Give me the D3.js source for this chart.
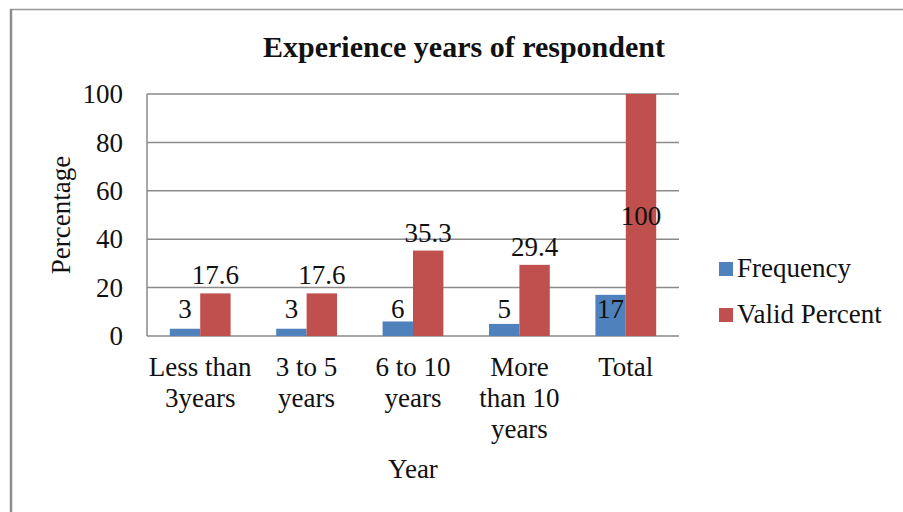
<!DOCTYPE html>
<html>
<head>
<meta charset="utf-8">
<script src="https://cdn.jsdelivr.net/npm/d3@7"></script>
<style>
  body { margin: 0; background: #fff; }
  svg { display: block; }
  text { font-family: "Liberation Serif", "Times New Roman", serif; fill: #111; }
  .axis path { display: none; }
  .axis text { font-size: 27px; font-family: "Liberation Serif", serif; fill: #111; }
</style>
</head>
<body>
<div id="chart"></div>
<script>
// chart data
const categories = [
  ['Less than', '3years'],
  ['3 to 5', 'years'],
  ['6 to 10', 'years'],
  ['More', 'than 10', 'years'],
  ['Total']
];
const seriesNames = ['Frequency', 'Valid Percent'];
const frequency = [3, 3, 6, 5, 17];
const validPercent = [17.6, 17.6, 35.3, 29.4, 100];
const yTicks = [0, 20, 40, 60, 80, 100];
const colors = ['#4f81bd', '#c0504d'];

const width = 903, height = 512;
const margin = {top: 94, right: 224, bottom: 176, left: 147};
const innerW = width - margin.left - margin.right;
const innerH = height - margin.top - margin.bottom;
const fontSize = 27;

const svg = d3.select('#chart').append('svg')
    .attr('width', width)
    .attr('height', height);

// outer frame (only top and left edges visible)
svg.append('line')
    .attr('x1', 10).attr('x2', width).attr('y1', 9.5).attr('y2', 9.5)
    .attr('stroke', '#999').attr('stroke-width', 1.5);
svg.append('line')
    .attr('x1', 11).attr('x2', 11).attr('y1', 9).attr('y2', height)
    .attr('stroke', '#8c8c8c').attr('stroke-width', 2.5);

svg.append('text')
    .attr('x', 464)
    .attr('y', 57)
    .attr('text-anchor', 'middle')
    .style('font-size', '30px')
    .style('font-weight', 'bold')
    .text('Experience years of respondent');

const chart = svg.append('g')
    .attr('transform', `translate(${margin.left},${margin.top})`);

const xScale = d3.scaleBand()
    .domain(d3.range(categories.length))
    .range([0, innerW]);

// Excel style gap width 150%
const groupW = xScale.bandwidth() / 3.5 * 2;
const xInner = d3.scaleBand()
    .domain(d3.range(seriesNames.length))
    .range([(xScale.bandwidth() - groupW) / 2, (xScale.bandwidth() + groupW) / 2]);

const yScale = d3.scaleLinear()
    .domain([0, 100])
    .range([innerH, 0]);

// gridlines
chart.append('g')
    .selectAll('line')
    .data(yTicks)
    .join('line')
    .attr('x1', 0).attr('x2', innerW)
    .attr('y1', d => yScale(d)).attr('y2', d => yScale(d))
    .attr('stroke', '#8a8a8a')
    .attr('stroke-width', 1.5);

chart.append('line')
    .attr('x1', 0).attr('x2', 0)
    .attr('y1', 0).attr('y2', innerH)
    .attr('stroke', '#8a8a8a')
    .attr('stroke-width', 1.5);

const yAxis = d3.axisLeft(yScale)
    .tickValues(yTicks)
    .tickSize(0)
    .tickPadding(24);

chart.append('g')
    .attr('class', 'axis')
    .call(yAxis);

const rows = categories.map((c, i) => ({i, values: [frequency[i], validPercent[i]]}));

const groups = chart.selectAll('.group')
    .data(rows)
    .join('g')
    .attr('class', 'group')
    .attr('transform', d => `translate(${xScale(d.i)},0)`);

groups.selectAll('rect')
    .data(d => d.values.map((v, s) => ({v, s})))
    .join('rect')
    .attr('x', d => xInner(d.s))
    .attr('width', xInner.bandwidth())
    .attr('y', d => yScale(d.v))
    .attr('height', d => innerH - yScale(d.v))
    .attr('fill', d => colors[d.s]);

// data labels
groups.selectAll('.label')
    .data(d => d.values.map((v, s) => ({v, s})))
    .join('text')
    .attr('class', 'label')
    .attr('x', d => xInner(d.s) + xInner.bandwidth() / 2)
    .attr('y', d => {
      if (d.s === 0) return innerH - 18;
      const top = yScale(d.v) - 9;
      return top < 25 ? (yScale(d.v) + innerH) / 2 + 10 : top;
    })
    .attr('text-anchor', 'middle')
    .style('font-size', fontSize + 'px')
    .text(d => d.v);

// category labels
const xLabels = chart.append('g');
categories.forEach((lines, i) => {
  const cx = xScale(i) + xScale.bandwidth() / 2;
  const t = xLabels.append('text')
      .attr('x', cx)
      .attr('y', innerH + 40)
      .attr('text-anchor', 'middle')
      .style('font-size', fontSize + 'px');
  lines.forEach((ln, k) => {
    t.append('tspan')
        .attr('x', cx)
        .attr('dy', k === 0 ? 0 : 31)
        .text(ln);
  });
});

svg.append('text')
    .attr('x', margin.left + innerW / 2)
    .attr('y', 478)
    .attr('text-anchor', 'middle')
    .style('font-size', fontSize + 'px')
    .text('Year');

svg.append('text')
    .attr('transform', 'translate(70,215) rotate(-90)')
    .attr('text-anchor', 'middle')
    .style('font-size', fontSize + 'px')
    .text('Percentage');

// legend
const legend = svg.append('g')
    .attr('transform', 'translate(719,268)');
seriesNames.forEach((name, i) => {
  legend.append('rect')
      .attr('x', 0)
      .attr('y', i * 46 - 6)
      .attr('width', 14)
      .attr('height', 14)
      .attr('fill', colors[i]);
  legend.append('text')
      .attr('x', 18)
      .attr('y', i * 46 + 9)
      .style('font-size', fontSize + 'px')
      .text(name);
});
</script>
</body>
</html>
